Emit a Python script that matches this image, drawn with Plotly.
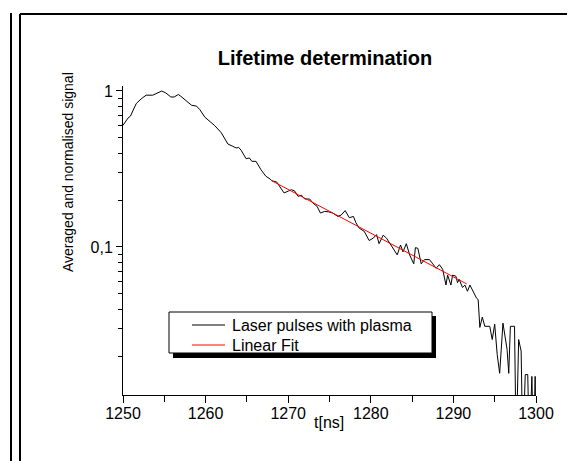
import plotly.graph_objects as go

# ---- data ----
t_ns = [1250.0, 1250.6, 1250.9, 1251.6, 1252.2, 1252.8, 1253.6, 1254.2, 1254.7, 1255.2,
        1255.8, 1256.2, 1256.7, 1257.0, 1257.7, 1258.3, 1258.9, 1259.3, 1259.9, 1260.5,
        1261.1, 1261.9, 1262.7, 1263.3, 1263.7, 1264.0, 1264.3, 1264.9, 1265.3, 1265.6,
        1266.1, 1266.7, 1267.3, 1267.8, 1268.0, 1268.6, 1269.0, 1269.5, 1270.0, 1270.4,
        1270.8, 1271.2, 1271.6, 1272.0, 1272.6, 1273.0, 1273.5, 1273.9, 1274.4, 1274.9,
        1275.4, 1276.0, 1276.4, 1276.9, 1277.4, 1277.9, 1278.2, 1278.6, 1279.2, 1279.8,
        1280.3, 1280.7, 1281.0, 1281.5, 1281.9, 1282.4, 1282.7, 1283.2, 1283.6, 1283.9,
        1284.3, 1284.7, 1285.2, 1285.4, 1285.7, 1286.1, 1286.5, 1287.1, 1287.5, 1287.9,
        1288.3, 1288.7, 1289.1, 1289.3, 1289.7, 1289.9, 1290.3, 1290.5, 1290.7, 1291.1,
        1291.4, 1291.7, 1292.0, 1292.4, 1292.8, 1293.0, 1293.2, 1293.5, 1293.8, 1294.4,
        1294.7, 1295.0, 1295.3, 1295.6, 1296.0, 1296.5, 1296.7, 1296.9, 1297.4, 1297.6,
        1297.9, 1298.2, 1298.4, 1298.7, 1299.0, 1299.2, 1299.5, 1299.7, 1299.9, 1300.0]
signal = [0.603, 0.67, 0.69, 0.83, 0.89, 0.94, 0.94, 0.97, 1.0, 0.97,
          0.915, 0.915, 0.95, 0.925, 0.86, 0.81, 0.80, 0.76, 0.68, 0.64,
          0.60, 0.54, 0.457, 0.442, 0.431, 0.435, 0.417, 0.368, 0.372, 0.354,
          0.354, 0.313, 0.284, 0.273, 0.266, 0.261, 0.241, 0.222, 0.228, 0.233,
          0.228, 0.211, 0.215, 0.203, 0.203, 0.191, 0.182, 0.165, 0.169, 0.168,
          0.165, 0.157, 0.160, 0.171, 0.154, 0.157, 0.143, 0.132, 0.126, 0.110,
          0.114, 0.120, 0.105, 0.119, 0.114, 0.103, 0.099, 0.089, 0.103, 0.093,
          0.105, 0.089, 0.078, 0.099, 0.098, 0.078, 0.083, 0.083, 0.078, 0.073,
          0.077, 0.072, 0.057, 0.066, 0.057, 0.066, 0.065, 0.059, 0.062, 0.055,
          0.057, 0.052, 0.057, 0.052, 0.047, 0.046, 0.0305, 0.0355, 0.031, 0.031,
          0.0255, 0.032, 0.0205, 0.0155, 0.0325, 0.022, 0.0155, 0.031, 0.031, 0.005,
          0.0255, 0.0215, 0.005, 0.0152, 0.0152, 0.005, 0.0148, 0.005, 0.0148, 0.005]

fit_t = [1268.0, 1291.6]
fit_signal = [0.266, 0.058]

x_ticks = [1250, 1260, 1270, 1280, 1290, 1300]
y_tickvals = [0.1, 1]
y_ticktext = ["0,1", "1"]
y_minor = [0.02, 0.03, 0.04, 0.05, 0.06, 0.07, 0.08, 0.09,
           0.2, 0.3, 0.4, 0.5, 0.6, 0.7, 0.8, 0.9]
x_minor = [1255, 1265, 1275, 1285, 1295]

legend_labels = ["Laser pulses with plasma", "Linear Fit"]

# ---- geometry (pixels) ----
W, H = 575, 461
L, R, T, B = 115, 528, 78, 387
pw, ph = R - L, B - T

def px(x):
    return (x - L) / pw

def py(y):
    return (B - y) / ph

FONT = "Liberation Sans, Arial, sans-serif"

fig = go.Figure()
fig.add_trace(go.Scatter(x=t_ns, y=signal, mode="lines",
                         line=dict(color="black", width=1), name=legend_labels[0],
                         showlegend=False))
fig.add_trace(go.Scatter(x=fit_t, y=fit_signal, mode="lines",
                         line=dict(color="#ff0000", width=1), name=legend_labels[1],
                         showlegend=False))

shapes = []
# outer frame lines
shapes.append(dict(type="line", xref="paper", yref="paper",
                   x0=px(3), x1=px(3), y0=py(5), y1=py(462),
                   line=dict(color="black", width=2)))
shapes.append(dict(type="line", xref="paper", yref="paper",
                   x0=px(12), x1=px(12), y0=py(6), y1=py(462),
                   line=dict(color="black", width=2)))
shapes.append(dict(type="line", xref="paper", yref="paper",
                   x0=px(12), x1=px(573), y0=py(6), y1=py(6),
                   line=dict(color="black", width=2)))
shapes.append(dict(type="line", xref="paper", yref="paper",
                   x0=px(573), x1=px(573), y0=py(6), y1=py(462),
                   line=dict(color="black", width=2)))
# legend shadow and box
shapes.append(dict(type="rect", xref="paper", yref="paper",
                   x0=px(165), x1=px(428), y0=py(308), y1=py(350),
                   fillcolor="black", line=dict(width=0)))
shapes.append(dict(type="rect", xref="paper", yref="paper",
                   x0=px(161), x1=px(424), y0=py(304), y1=py(345),
                   fillcolor="white", line=dict(color="black", width=1)))
# legend samples
shapes.append(dict(type="line", xref="paper", yref="paper",
                   x0=px(184), x1=px(217), y0=py(317), y1=py(317),
                   line=dict(color="black", width=1)))
shapes.append(dict(type="line", xref="paper", yref="paper",
                   x0=px(184), x1=px(217), y0=py(337), y1=py(337),
                   line=dict(color="#ff0000", width=1)))

annotations = [
    dict(text=legend_labels[0], xref="paper", yref="paper", x=px(222), y=py(317),
         xanchor="left", yanchor="middle", showarrow=False,
         font=dict(family=FONT, size=16, color="black")),
    dict(text=legend_labels[1], xref="paper", yref="paper", x=px(222), y=py(337),
         xanchor="left", yanchor="middle", showarrow=False,
         font=dict(family=FONT, size=16, color="black")),
    dict(text="Averaged and normalised signal", xref="paper", yref="paper",
         x=px(60), y=py(164), textangle=-90, xanchor="center", yanchor="middle",
         showarrow=False, font=dict(family=FONT, size=14, color="black")),
    dict(text="t[ns]", xref="paper", yref="paper", x=px(321), y=py(414),
         xanchor="center", yanchor="middle", showarrow=False,
         font=dict(family=FONT, size=16, color="black")),
]

fig.update_layout(
    width=W, height=H,
    margin=dict(l=L, r=W - R, t=T, b=H - B, pad=0),
    paper_bgcolor="white", plot_bgcolor="white",
    showlegend=False,
    title=dict(text="<b>Lifetime determination</b>", x=px(317), xref="paper",
               xanchor="center", y=1 - 50 / H, yanchor="middle",
               font=dict(family=FONT, size=20, color="black")),
    shapes=shapes, annotations=annotations,
    xaxis=dict(range=[1250, 1300], showline=True, linecolor="black", linewidth=1,
               showgrid=False, zeroline=False, mirror=False,
               tickmode="array", tickvals=x_ticks, ticks="outside", ticklen=7,
               tickcolor="black", tickwidth=1, ticklabelstandoff=-3,
               tickfont=dict(family=FONT, size=16, color="black"),
               minor=dict(tickmode="array", tickvals=x_minor, ticks="outside",
                          ticklen=6, tickcolor="black", tickwidth=1, showgrid=False)),
    yaxis=dict(type="log", range=[-1.949, 0.032], showline=True, linecolor="black",
               linewidth=1, showgrid=False, zeroline=False,
               tickmode="array", tickvals=y_tickvals, ticktext=y_ticktext,
               ticks="outside", ticklen=6, tickcolor="black", tickwidth=1,
               tickfont=dict(family=FONT, size=16, color="black"),
               minor=dict(tickmode="array", tickvals=y_minor, ticks="outside",
                          ticklen=4, tickcolor="black", tickwidth=1, showgrid=False)),
)

fig.write_html("out.html")
